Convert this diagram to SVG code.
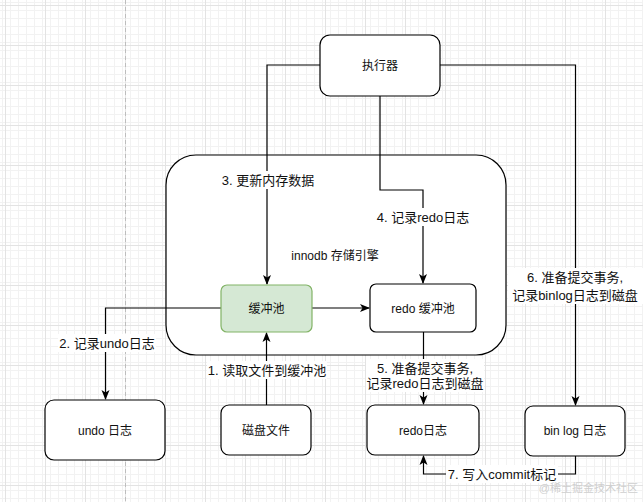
<svg xmlns="http://www.w3.org/2000/svg" width="643" height="502" viewBox="0 0 643 502">
<defs>
<pattern id="minor" width="8" height="8" patternUnits="userSpaceOnUse" x="5" y="5">
<path d="M0,0.5 H8 M0.5,0 V8" fill="none" stroke="#f2f2f2" stroke-width="1"/>
</pattern>
<pattern id="major" width="40" height="40" patternUnits="userSpaceOnUse" x="5" y="5">
<rect width="40" height="40" fill="url(#minor)"/>
<path d="M0,0.5 H40 M0.5,0 V40" fill="none" stroke="#e3e3e3" stroke-width="1"/>
</pattern>
<marker id="arr" markerWidth="10" markerHeight="10" refX="9" refY="4" orient="auto" markerUnits="userSpaceOnUse" viewBox="0 0 10 8">
<path d="M0,0 L10,4 L0,8 L2.5,4 Z" fill="#000"/>
</marker>
</defs>
<style>
.box{fill:#fff;stroke:#000;stroke-width:1.2}
.t{font-family:"Liberation Sans","Noto Sans CJK SC",sans-serif;font-size:12px;fill:#111;text-anchor:middle;dominant-baseline:central}
.l{font-family:"Liberation Sans","Noto Sans CJK SC",sans-serif;font-size:13px;fill:#111;text-anchor:middle;dominant-baseline:central}
.e{fill:none;stroke:#000;stroke-width:1.2}
.bg{fill:#fff}
</style>
<rect width="643" height="502" fill="#fff"/>
<rect width="643" height="502" fill="url(#major)"/>
<line x1="125.5" y1="0" x2="125.5" y2="502" stroke="#bdbdbd" stroke-dasharray="4 3"/>

<g id="innodb">
<rect x="166" y="155" width="340" height="200" rx="30" class="box"/>
<text x="335" y="256" class="t">innodb 存储引擎</text>
</g>

<g id="connectors">
<path class="e" d="M320,65 H267 V284" marker-end="url(#arr)"/>
<path class="e" d="M380,96 V190 H423 V283" marker-end="url(#arr)"/>
<path class="e" d="M440,65 H575.5 V405" marker-end="url(#arr)"/>
<path class="e" d="M312,308 H369" marker-end="url(#arr)"/>
<path class="e" d="M221,308 H105.5 V399" marker-end="url(#arr)"/>
<path class="e" d="M266.5,405 V333" marker-end="url(#arr)"/>
<path class="e" d="M423.5,332 V404" stroke="#808080" marker-end="url(#arr)"/>
<path class="e" d="M575.5,456 V474 H423.5 V456" marker-end="url(#arr)"/>
<rect class="bg" x="220" y="171" width="96" height="18"/>
<text x="268" y="180" class="l">3. 更新内存数据</text>
<rect class="bg" x="377" y="208" width="92" height="18"/>
<text x="423" y="217" class="l">4. 记录redo日志</text>
<rect class="bg" x="58" y="334" width="98" height="18"/>
<text x="107" y="343" class="l">2. 记录undo日志</text>
<rect class="bg" x="207" y="361" width="120" height="18"/>
<text x="267" y="370" class="l">1. 读取文件到缓冲池</text>
<rect class="bg" x="366" y="359" width="118" height="33"/>
<text x="425" y="368" class="l">5. 准备提交事务,</text>
<text x="425" y="383" class="l">记录redo日志到磁盘</text>
<rect class="bg" x="508" y="268" width="136" height="36"/>
<text x="575" y="277" class="l">6. 准备提交事务,</text>
<text x="575" y="295" class="l">记录binlog日志到磁盘</text>
<rect class="bg" x="446" y="465" width="112" height="18"/>
<text x="502" y="474" class="l">7. 写入commit标记</text>
</g>

<g id="executor">
<rect x="320" y="35" width="120" height="61" rx="10" class="box"/>
<text x="380" y="66" class="t">执行器</text>
</g>
<g id="buffer-pool">
<rect x="221" y="285" width="91" height="47" rx="6" fill="#d5e8d4" stroke="#82b366" stroke-width="1.2"/>
<text x="266.5" y="309" class="t">缓冲池</text>
</g>
<g id="redo-buffer">
<rect x="370" y="284" width="106" height="48" rx="6" class="box"/>
<text x="423" y="309" class="t">redo 缓冲池</text>
</g>
<g id="undo-log">
<rect x="45" y="400" width="120" height="60" rx="9" class="box"/>
<text x="105" y="431" class="t">undo 日志</text>
</g>
<g id="disk-file">
<rect x="221" y="405" width="90" height="50" rx="8" class="box"/>
<text x="266" y="431" class="t">磁盘文件</text>
</g>
<g id="redo-log">
<rect x="367" y="405" width="112" height="50" rx="8" class="box"/>
<text x="423" y="431" class="t">redo日志</text>
</g>
<g id="binlog">
<rect x="525" y="406" width="100" height="50" rx="8" class="box"/>
<text x="575" y="431" class="t">bin log 日志</text>
</g>
<text x="638" y="492" font-family="Liberation Sans, Noto Sans CJK SC, sans-serif" font-size="11" fill="#cfcfcf" text-anchor="end">@稀土掘金技术社区</text>
</svg>
